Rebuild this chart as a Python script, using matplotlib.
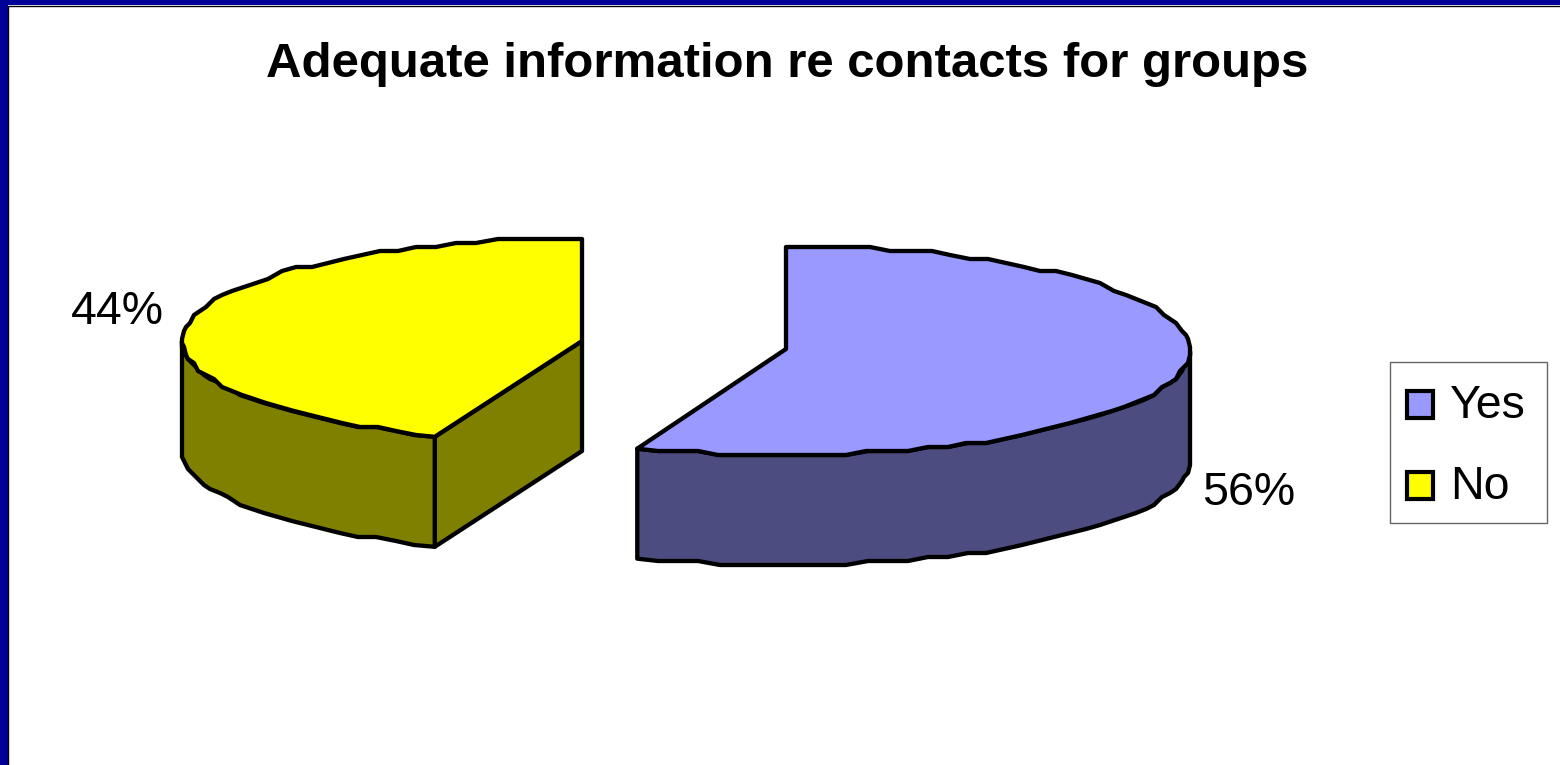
#!/usr/bin/env python3
# -*- coding: utf-8 -*-
"""Exploded 3D style pie: adequate information re contacts for groups."""
import numpy as np
import matplotlib
matplotlib.use('Agg')
import matplotlib.pyplot as plt
from matplotlib.patches import Polygon, Rectangle

title = 'Adequate information re contacts for groups'
labels = ['Yes', 'No']
values = [56, 44]
top_colors = ['#9999FF', '#FFFF00']
side_colors = ['#4C4C80', '#808000']

plt.rcParams['font.family'] = ['Liberation Sans', 'DejaVu Sans']

# apex of each slice's top face, in pixels (slices are pulled apart)
centers = [(786, 349), (582, 341)]
radii = [(404, 104.5), (400, 102.5)]
rim_drops = [2.5, 0.5]  # ellipse centre sits a bit below the apex
depth = 110


def rim(center, radius, drop, start, end, step=3):
    """Points along the top rim, angles clockwise from 12 o'clock, stepped like the original."""
    n = max(int(abs(end - start) / step), 1)
    ang = np.radians(np.linspace(start, end, n + 1))
    x = center[0] + radius[0] * np.sin(ang)
    y = center[1] + drop - radius[1] * np.cos(ang)
    x[1:-1] = np.round(x[1:-1] / 2) * 2
    y[1:-1] = np.round(y[1:-1] / 4) * 4 - 1
    return np.column_stack([x, y])


def draw_face(ax, pts, color):
    ax.add_patch(Polygon(pts, closed=True, facecolor=color, edgecolor='black',
                         linewidth=3.1, joinstyle='round'))


fig = plt.figure(figsize=(15.6, 7.65), dpi=100, facecolor='white')
ax = fig.add_axes([0, 0, 1, 1])
ax.set_xlim(0, 1560)
ax.set_ylim(765, 0)
ax.axis('off')

# slide border, only top and left
ax.add_patch(Rectangle((0, 0), 1560, 5, facecolor='#000099', edgecolor='none'))
ax.add_patch(Rectangle((0, 0), 7.5, 765, facecolor='#000099', edgecolor='none'))
ax.plot([8, 8, 1560], [765, 5.5, 5.5], color='black', linewidth=1)

fractions = np.array(values) / sum(values)
angles = np.concatenate([[0], np.cumsum(fractions) * 360])

for i in range(len(values)):
    start, end = angles[i], angles[i + 1]
    c, r, d = centers[i], radii[i], rim_drops[i]
    top = rim(c, r, d, start, end)

    # radial wall of the second slice faces the viewer
    if i == 1:
        a = top[0]
        draw_face(ax, [a, c, (c[0], c[1] + depth), (a[0], a[1] + depth)], side_colors[i])

    # outer wall, only the part of the rim in the front half
    lo, hi = max(start, 90), min(end, 270)
    front = rim(c, r, d, lo, hi)
    wall = np.vstack([front, (front + [0, depth])[::-1]])
    draw_face(ax, wall, side_colors[i])

    draw_face(ax, np.vstack([[c], top]), top_colors[i])

ax.text(787, 77, title, fontsize=35.4, fontweight='bold', ha='center', va='baseline')
ax.text(117, 324, '%d%%' % values[1], fontsize=33.5, ha='center', va='baseline')
ax.text(1249, 505, '%d%%' % values[0], fontsize=33.5, ha='center', va='baseline')

# legend
ax.add_patch(Rectangle((1390, 362), 157, 161, facecolor='white', edgecolor='#666666', linewidth=1))
for label, color, y in zip(labels, top_colors, [391, 472]):
    ax.add_patch(Rectangle((1407, y), 26, 27, facecolor=color, edgecolor='black', linewidth=3))
    ax.text(1450, y + 27, label, fontsize=33.5, ha='left', va='baseline')

fig.savefig('out.png', dpi=100)
